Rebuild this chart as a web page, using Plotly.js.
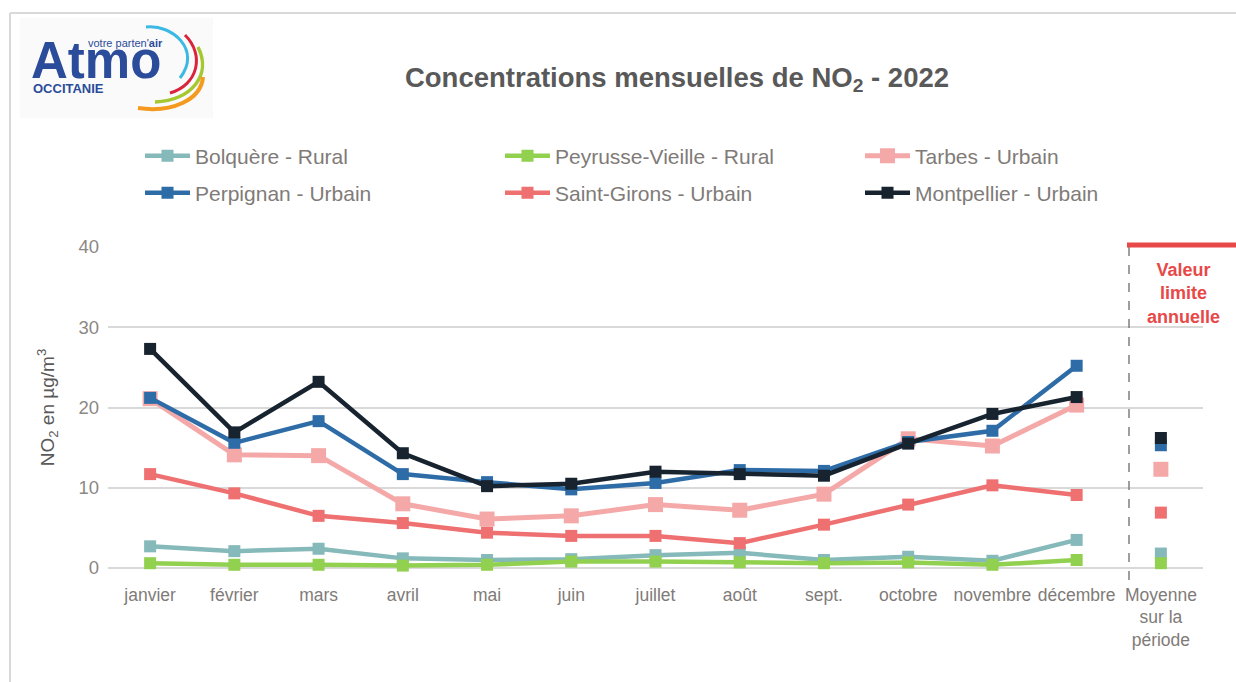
<!DOCTYPE html>
<html>
<head>
<meta charset="utf-8">
<script src="https://cdn.plot.ly/plotly-3.0.1.min.js"></script>
<style>
  body { margin: 0; background: #fff; }
  #grafico { width: 1236px; height: 682px; }
</style>
</head>
<body>
<div id="grafico"></div>
<script>
// donnees
var mois = ["janvier", "février", "mars", "avril", "mai", "juin", "juillet", "août", "sept.", "octobre", "novembre", "décembre"];
var labelMoyenne = "Moyenne<br>sur la<br>période";

var bolquere    = [2.7, 2.1, 2.4, 1.2, 1.0, 1.1, 1.6, 1.9, 1.0, 1.4, 0.9, 3.5];
var peyrusse    = [0.6, 0.4, 0.4, 0.3, 0.4, 0.8, 0.8, 0.7, 0.6, 0.7, 0.4, 1.0];
var tarbes      = [21.1, 14.1, 14.0, 8.0, 6.1, 6.5, 7.9, 7.2, 9.2, 16.1, 15.2, 20.3];
var perpignan   = [21.2, 15.6, 18.3, 11.7, 10.7, 9.8, 10.6, 12.2, 12.1, 15.7, 17.1, 25.2];
var saintGirons = [11.7, 9.3, 6.5, 5.6, 4.4, 4.0, 4.0, 3.1, 5.4, 7.9, 10.3, 9.1];
var montpellier = [27.3, 16.9, 23.2, 14.3, 10.2, 10.5, 12.0, 11.7, 11.5, 15.5, 19.2, 21.3];

// moyennes sur la periode (Bolquere, Peyrusse, Tarbes, Perpignan, Saint-Girons, Montpellier)
var moyennes = [1.8, 0.6, 12.3, 15.3, 6.9, 16.2];

var noms = ["Bolquère - Rural", "Peyrusse-Vieille - Rural", "Tarbes - Urbain", "Perpignan - Urbain", "Saint-Girons - Urbain", "Montpellier - Urbain"];
var series = [bolquere, peyrusse, tarbes, perpignan, saintGirons, montpellier];
var couleurs = ["#86b9b9", "#92d050", "#f4a9a8", "#2e6ca7", "#ee7070", "#17232f"];
var tailles = [12, 12, 15, 12, 12, 12];

var police = "Liberation Sans Narrow, Arial Narrow, Liberation Sans, Arial, sans-serif";
var policeLogo = "Liberation Sans, Arial, sans-serif";

var data = [];
for (var i = 0; i < series.length; i++) {
    data.push({
        x: mois,
        y: series[i],
        name: noms[i],
        legend: i < 3 ? "legend" : "legend2",
        type: "scatter",
        mode: "lines+markers",
        line: { color: couleurs[i], width: i == 2 ? 5 : 4.5 },
        marker: { symbol: "square", size: tailles[i], color: couleurs[i] },
        cliponaxis: false,
        hoverinfo: "skip"
    });
}
for (var i = 0; i < series.length; i++) {
    data.push({
        x: [labelMoyenne],
        y: [moyennes[i]],
        type: "scatter",
        mode: "markers",
        showlegend: false,
        marker: { symbol: "square", size: tailles[i], color: couleurs[i] },
        cliponaxis: false,
        hoverinfo: "skip"
    });
}

// pixels -> coordonnees papier (marges l=108, t=247, largeur 1095, hauteur 321)
function px(x) { return (x - 108) / 1095; }
function py(y) { return (568 - y) / 321; }
function pt(x, y) { return px(x) + "," + py(y); }

var shapes = [
    // cadre gris
    { type: "line", xref: "paper", yref: "paper", x0: px(10), x1: px(1240), y0: py(13), y1: py(13), line: { color: "#d9d9d9", width: 2 } },
    { type: "line", xref: "paper", yref: "paper", x0: px(10), x1: px(10), y0: py(13), y1: py(690), line: { color: "#d9d9d9", width: 2 } },
    // fond du logo
    { type: "rect", xref: "paper", yref: "paper", x0: px(20), x1: px(213), y0: py(18), y1: py(118), fillcolor: "#fafafa", line: { width: 0 }, layer: "below" },
    // arcs du logo
    { type: "path", xref: "paper", yref: "paper", path: "M" + pt(146, 27) + " C" + pt(172, 24) + " " + pt(202, 50) + " " + pt(180, 78), line: { color: "#3bb8e3", width: 3 } },
    { type: "path", xref: "paper", yref: "paper", path: "M" + pt(185, 35) + " C" + pt(205, 55) + " " + pt(198, 85) + " " + pt(170, 93), line: { color: "#d9243c", width: 3 } },
    { type: "path", xref: "paper", yref: "paper", path: "M" + pt(198, 47) + " C" + pt(212, 75) + " " + pt(192, 100) + " " + pt(155, 102), line: { color: "#a5c830", width: 3.5 } },
    { type: "path", xref: "paper", yref: "paper", path: "M" + pt(203, 77) + " C" + pt(201, 100) + " " + pt(172, 113) + " " + pt(138, 108), line: { color: "#f39a1f", width: 4 } },
    // separation moyenne
    { type: "line", xref: "paper", yref: "paper", x0: px(1129), x1: px(1129), y0: py(247), y1: py(587), line: { color: "#7f7f7f", width: 1.5, dash: "dash" } },
    // valeur limite annuelle
    { type: "line", xref: "paper", yref: "paper", x0: px(1127), x1: px(1240), y0: py(245), y1: py(245), line: { color: "#e84848", width: 5 } }
];

var annotations = [
    { xref: "paper", yref: "paper", x: px(1183), y: py(293), xanchor: "center", yanchor: "middle", text: "<b>Valeur<br>limite<br>annuelle</b>", showarrow: false, font: { family: police, size: 18, color: "#e84848" } },
    { xref: "paper", yref: "paper", x: px(29), y: py(61), xanchor: "left", yanchor: "middle", text: "<b>Atmo</b>", showarrow: false, font: { family: policeLogo, size: 51, color: "#2b4b9b" } },
    { xref: "paper", yref: "paper", x: px(86), y: py(43), xanchor: "left", yanchor: "middle", text: "votre parten'<b>air</b>", showarrow: false, font: { family: policeLogo, size: 11, color: "#2b4b9b" } },
    { xref: "paper", yref: "paper", x: px(31), y: py(89), xanchor: "left", yanchor: "middle", text: "<b>OCCITANIE</b>", showarrow: false, font: { family: policeLogo, size: 13, color: "#2b4b9b" } }
];

var legende = {
    orientation: "h",
    x: px(140), xanchor: "left",
    yanchor: "middle",
    entrywidth: 300, entrywidthmode: "pixels",
    itemwidth: 45,
    font: { family: police, size: 21, color: "#7f7b78" },
    bgcolor: "rgba(0,0,0,0)"
};

var layout = {
    width: 1236,
    height: 682,
    margin: { l: 108, r: 33, t: 247, b: 114 },
    paper_bgcolor: "#ffffff",
    plot_bgcolor: "#ffffff",
    font: { family: police, color: "#7f7b78" },
    title: {
        text: "<b>Concentrations mensuelles de NO<sub>2</sub> - 2022</b>",
        font: { family: police, size: 27.5, color: "#595959" },
        xref: "paper", x: px(677), xanchor: "center",
        yref: "container", y: 1 - 77 / 682, yanchor: "middle"
    },
    showlegend: true,
    legend: Object.assign({}, legende, { y: py(156) }),
    legend2: Object.assign({}, legende, { y: py(193) }),
    xaxis: {
        type: "category",
        categoryarray: mois.concat([labelMoyenne]),
        range: [-0.5, 12.5],
        showgrid: false,
        zeroline: false,
        showline: false,
        ticks: "",
        ticklabelstandoff: 14,
        tickfont: { family: police, size: 17.5, color: "#7f7b78" },
        fixedrange: true
    },
    yaxis: {
        range: [0, 40],
        dtick: 10,
        showgrid: true,
        gridcolor: "#d9d9d9",
        gridwidth: 2,
        zeroline: true,
        zerolinecolor: "#d9d9d9",
        zerolinewidth: 2,
        showline: false,
        ticks: "",
        ticklabelstandoff: 8,
        tickfont: { family: police, size: 18.5, color: "#8c8884" },
        title: {
            text: "NO<sub>2</sub> en µg/m<sup>3</sup>",
            font: { family: police, size: 19, color: "#595959" },
            standoff: 18
        },
        fixedrange: true
    },
    shapes: shapes,
    annotations: annotations
};

Plotly.newPlot("grafico", data, layout, { displayModeBar: false, staticPlot: true });
</script>
</body>
</html>
